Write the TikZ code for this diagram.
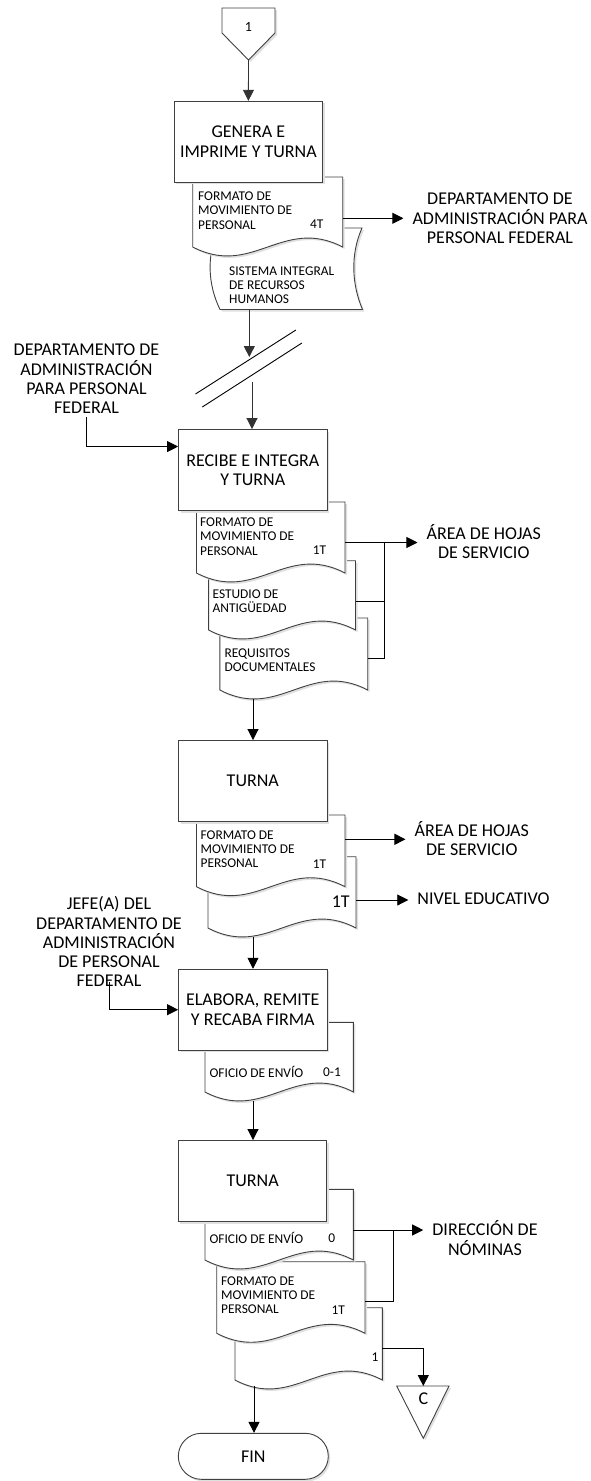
\documentclass[tikz,border=0pt]{standalone}
\usepackage{fontspec}
\setmainfont{Carlito}
\usetikzlibrary{arrows.meta,calc,shadows,positioning}

\newcommand{\bigtxt}{\fontsize{18}{19.3}\selectfont}
\newcommand{\smalltxt}{\fontsize{13.4}{14.3}\selectfont}

% document sheet with wavy bottom: left, top, right, bottom
\newcommand{\docsheet}[4]{%
  \filldraw[sheetline] (#1,#2) -- (#3,#2) -- (#3,#4)
    .. controls ({#1+0.6*(#3-#1)},{#4-31}) and ({#1+0.4*(#3-#1)},{#4+31}) .. (#1,#4) -- cycle;}

\begin{document}
\begin{tikzpicture}[x=1pt,y=-1pt,
  proc/.style={rectangle,draw=black!75,fill=white,line width=0.9pt,
    minimum width=148.5pt,minimum height=81pt,align=center,font=\bigtxt,
    drop shadow={shadow xshift=2pt,shadow yshift=-2pt,fill=black!12,opacity=1}},
  sheetline/.style={draw=black!75,fill=white,line width=0.9pt,
    drop shadow={shadow xshift=2pt,shadow yshift=-2pt,fill=black!12,opacity=1}},
  doctxt/.style={anchor=west,align=left,inner sep=0pt,font=\smalltxt},
  numtxt/.style={inner sep=0pt,font=\smalltxt},
  lbl/.style={align=center,inner xsep=9pt,inner ysep=3pt,font=\bigtxt},
  ln/.style={line width=0.9pt},
  arr/.style={-{Triangle[length=11pt,width=11pt]},line width=0.9pt}]

  \useasboundingbox (0,0) rectangle (590,1481);

  % connector 1
  \filldraw[sheetline] (222,8) -- (275,8) -- (275,33) -- (248.5,60) -- (222,33) -- cycle;
  \node[numtxt,font=\fontsize{14}{16}\selectfont] (con1) at (248.5,27) {1};
  \coordinate (con1tip) at (248.5,60);

  % genera e imprime
  \filldraw[sheetline] (219,228) -- (362,228) .. controls (350,255) and (352,285) .. (362.5,309.5)
    -- (220,309.5) .. controls (208,285) and (206,255) .. (219,228) -- cycle;
  \node[doctxt] (sirh) at (229,285) {SISTEMA INTEGRAL\\DE RECURSOS\\HUMANOS};
  \docsheet{192.7}{177}{342.7}{247}
  \node[doctxt] (fmp1) at (198,210.5) {FORMATO DE\\MOVIMIENTO DE\\PERSONAL};
  \node[numtxt] (fmp1n) at (316.7,224) {4T};
  \node[proc,minimum width=148.6pt] (gen) at (248.4,141.8) {GENERA E\\IMPRIME Y TURNA};
  \draw[arr,draw=black!80] (con1tip) -- (gen.north);

  \node[lbl] (deptA) at (500,218.3) {DEPARTAMENTO DE\\ADMINISTRACIÓN PARA\\PERSONAL FEDERAL};
  \coordinate (fmp1out) at (342.7,218.3);
  \draw[arr] (fmp1out) -- (fmp1out -| deptA.west);

  % break
  \coordinate (sirhbot) at (249.3,309.5);
  \coordinate (brkA) at (249.3,357);
  \draw[arr,draw=black!80] (sirhbot) -- (brkA);
  \draw[ln] (195.5,394) -- (295.9,330);
  \draw[ln] (202.3,407) -- (301.9,343);
  \coordinate (brkB) at (252,382);

  % recibe e integra
  \docsheet{219.9}{618}{367.7}{690}
  \node[doctxt] (req) at (224.4,660) {REQUISITOS\\DOCUMENTALES};
  \docsheet{208.6}{560.7}{355.5}{630}
  \node[doctxt] (est) at (212.4,601) {ESTUDIO DE\\ANTIGÜEDAD};
  \docsheet{196.5}{502}{345}{573}
  \node[doctxt] (fmp2) at (200,536.5) {FORMATO DE\\MOVIMIENTO DE\\PERSONAL};
  \node[numtxt] (fmp2n) at (319.5,550) {1T};
  \node[proc] (rec) at (252.8,470) {RECIBE E INTEGRA\\Y TURNA};
  \draw[arr,draw=black!80] (brkB) -- (brkB |- rec.north);

  \node[lbl] (deptB) at (86.5,379) {DEPARTAMENTO DE\\ADMINISTRACIÓN\\PARA PERSONAL\\FEDERAL};
  \draw[arr] (deptB.south) |- ($(rec.north west)+(0,17.5)$);

  \node[lbl] (areaA) at (483.8,541.7) {ÁREA DE HOJAS\\DE SERVICIO};
  \coordinate (fmp2out) at (345,542.5);
  \coordinate (estout) at (355.5,601);
  \coordinate (reqout) at (367.7,658.3);
  \coordinate (junA) at (384,542.5);
  \draw[arr] (fmp2out) -- (fmp2out -| areaA.west);
  \draw[ln] (estout) -- (estout -| junA);
  \draw[ln] (reqout) -| (junA);

  % turna
  \coordinate (reqbot) at (253,699);
  \docsheet{208}{856.7}{356}{928}
  \node[numtxt,font=\bigtxt] (nivn) at (340.7,901.7) {1T};
  \docsheet{196.5}{815}{345}{886.7}
  \node[doctxt] (fmp3) at (200.4,849.2) {FORMATO DE\\MOVIMIENTO DE\\PERSONAL};
  \node[numtxt] (fmp3n) at (319.5,864.3) {1T};
  \node[proc] (tur1) at (252.8,781) {TURNA};
  \draw[arr] (reqbot) -- (reqbot |- tur1.north);

  \node[lbl] (areaB) at (471.8,838.5) {ÁREA DE HOJAS\\DE SERVICIO};
  \node[lbl] (nivel) at (483.5,899) {NIVEL EDUCATIVO};
  \coordinate (fmp3out) at (345,839.3);
  \coordinate (nivout) at (356,900);
  \draw[arr] (fmp3out) -- (fmp3out -| areaB.west);
  \draw[arr] (nivout) -- (nivout -| nivel.west);

  % elabora, remite
  \coordinate (nivbot) at (253,936.5);
  \docsheet{205}{1022.3}{353.4}{1092}
  \node[doctxt] (ofi1) at (209.4,1071.7) {OFICIO DE ENVÍO};
  \node[numtxt] (ofi1n) at (332,1071.7) {0-1};
  \node[proc] (ela) at (252.8,1009.7) {ELABORA, REMITE\\Y RECABA FIRMA};
  \draw[arr] (nivbot) -- (nivbot |- ela.north);

  \node[lbl] (jefe) at (109,941.8) {JEFE(A) DEL\\DEPARTAMENTO DE\\ADMINISTRACIÓN\\DE PERSONAL\\FEDERAL};
  \draw[arr] ($(jefe.south)+(0,-8)$) |- (ela.west);

  % turna
  \coordinate (ofi1bot) at (253,1101);
  \docsheet{235}{1307.7}{382.3}{1380}
  \node[numtxt] (copn) at (375,1356.7) {1};
  \docsheet{216.7}{1261.7}{365}{1333.3}
  \node[doctxt] (fmp4) at (221,1295) {FORMATO DE\\MOVIMIENTO DE\\PERSONAL};
  \node[numtxt] (fmp4n) at (338.3,1310) {1T};
  \docsheet{205}{1189.3}{353.3}{1260}
  \node[doctxt] (ofi2) at (209.3,1238.3) {OFICIO DE ENVÍO};
  \node[numtxt] (ofi2n) at (331.7,1238.3) {0};
  \node[proc] (tur2) at (252.6,1181) {TURNA};
  \draw[arr] (ofi1bot) -- (ofi1bot |- tur2.north);

  \node[lbl] (dirn) at (485,1238) {DIRECCIÓN DE\\NÓMINAS};
  \coordinate (ofi2out) at (353.3,1230);
  \coordinate (fmp4out) at (365,1301.7);
  \coordinate (junC) at (393.3,1230);
  \draw[arr] (ofi2out) -- (ofi2out -| dirn.west);
  \draw[ln] (fmp4out) -| (junC);

  % connector C
  \filldraw[sheetline] (396.7,1386) -- (449,1386) -- (423.3,1438.3) -- cycle;
  \node[numtxt,font=\bigtxt] (conC) at (423.3,1399) {C};
  \coordinate (conCtop) at (423.3,1386);
  \coordinate (copout) at (382.3,1348.3);
  \draw[arr] (copout) -| (conCtop);

  % fin
  \node[proc,rounded corners=23pt,minimum width=150pt,minimum height=46pt] (fin) at (253.3,1456.3) {FIN};
  \coordinate (copbot) at (254,1386);
  \draw[arr] (copbot) -- (copbot |- fin.north);
\end{tikzpicture}
\end{document}
